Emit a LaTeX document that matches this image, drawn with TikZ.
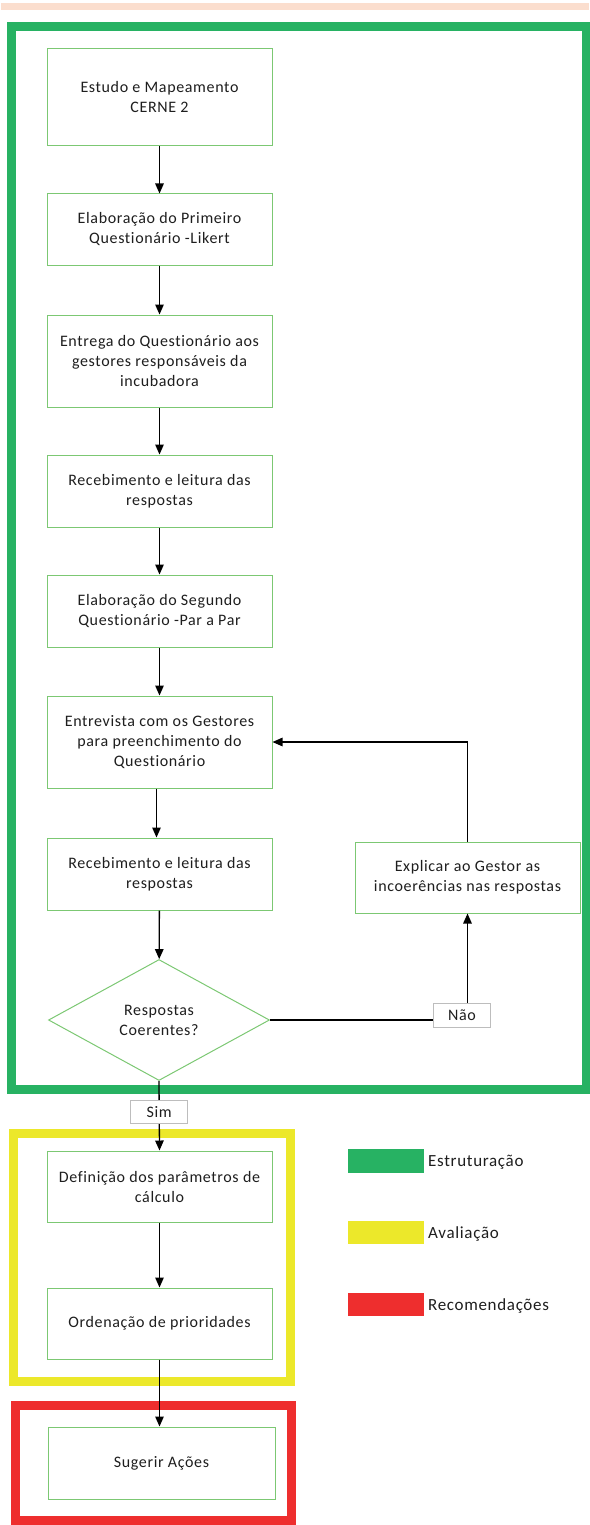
\documentclass[tikz,border=0pt]{standalone}
\usepackage{fontspec}
\setmainfont{Carlito}[LetterSpace=4,Ligatures=NoCommon]
\usetikzlibrary{shapes.geometric,arrows.meta}
\definecolor{gframe}{HTML}{27B263}
\definecolor{yframe}{HTML}{ECE82A}
\definecolor{rframe}{HTML}{EE2E2E}
\definecolor{bline}{HTML}{7CC873}
\definecolor{peach}{HTML}{FBDECE}
\definecolor{lgray}{HTML}{BDBDBD}
\definecolor{txt}{HTML}{1E1E1E}
\begin{document}
\begin{tikzpicture}[x=1pt,y=-1pt,
  flowbox/.style={draw=bline, line width=1pt, fill=white, minimum width=225pt, align=center, text=txt, font=\fontsize{16}{20}\selectfont, inner sep=2pt},
  lbl/.style={draw=lgray, line width=1pt, fill=white, minimum width=57pt, minimum height=24pt, inner sep=1pt, text=txt, font=\fontsize{16}{20}\selectfont},
  arr/.style={draw=black, line width=1.3pt, -{Triangle[length=10pt,width=8.5pt]}},
  frame/.style={line width=9pt},
  legtxt/.style={anchor=west, text=txt, font=\fontsize{17}{20}\selectfont, inner sep=0pt}
]
\useasboundingbox (0,0) rectangle (589,1525);
\fill[peach] (1,3) rectangle (589,10);

% frames
\draw[frame, draw=gframe] (11,27) rectangle (586,1089.5);
\draw[frame, draw=yframe] (13,1133) rectangle (290,1381);
\draw[frame, draw=rframe] (15.5,1405) rectangle (291.5,1520);

% boxes
\node[flowbox, minimum height=97pt] (b1) at (159.5,97.5) {Estudo e Mapeamento\\CERNE 2};
\node[flowbox, minimum height=71pt] (b2) at (159.5,229.5) {Elaboração do Primeiro\\Questionário -Likert};
\node[flowbox, minimum height=92pt] (b3) at (159.5,361) {Entrega do Questionário aos\\gestores responsáveis da\\incubadora};
\node[flowbox, minimum height=72pt] (b4) at (159.5,491) {Recebimento e leitura das\\respostas};
\node[flowbox, minimum height=72pt] (b5) at (159.5,611) {Elaboração do Segundo\\Questionário -Par a Par};
\node[flowbox, minimum height=92pt] (b6) at (159.5,742) {Entrevista com os Gestores\\para preenchimento do\\Questionário};
\node[flowbox, minimum height=72pt] (b7) at (159.5,874) {Recebimento e leitura das\\respostas};
\node[draw=bline, line width=1pt, fill=white, shape=diamond, aspect=1.83, minimum width=221pt, minimum height=121pt, align=center, text=txt, font=\fontsize{16}{20}\selectfont, inner sep=0pt] (d) at (159,1020) {Respostas\\Coerentes?};
\node[flowbox, minimum height=71pt] (ex) at (467.5,877.5) {Explicar ao Gestor as\\incoerências nas respostas};
\node[flowbox, minimum height=71pt] (c1) at (159.5,1186.5) {Definição dos parâmetros de\\cálculo};
\node[flowbox, minimum height=71pt] (c2) at (159.5,1323.5) {Ordenação de prioridades};
\node[flowbox, minimum width=227pt, minimum height=72pt] (s1) at (161.5,1463) {Sugerir Ações};

% arrows
\draw[arr] (b1) -- (b2);
\draw[arr] (b2) -- (b3);
\draw[arr] (b3) -- (b4);
\draw[arr] (b4) -- (b5);
\draw[arr] (b5) -- (b6);
\draw[arr] ([xshift=-3pt]b6.south) -- ([xshift=-3pt]b7.north);
\draw[arr] (b7) -- (d);
\draw[arr] (d.east) -| (ex.south) node[lbl, pos=0.5, xshift=-5.5pt, yshift=5pt] (nao) {Não};
\draw[arr] (ex.north) |- (b6.east);
\draw[arr] (d.south) -- (c1.north) node[lbl, pos=0.45, minimum height=23pt] (sim) {Sim};
\draw[arr] (c1) -- (c2);
\draw[arr] (c2.south) -- (c2.south |- s1.north);

% legend
\fill[gframe] (348,1149) rectangle (424,1173);
\node[legtxt] (l1) at (428,1162) {Estruturação};
\fill[yframe] (348,1221) rectangle (424,1244);
\node[legtxt] (l2) at (428,1234) {Avaliação};
\fill[rframe] (348,1293) rectangle (424,1316);
\node[legtxt] (l3) at (428,1306) {Recomendações};
\end{tikzpicture}
\end{document}
